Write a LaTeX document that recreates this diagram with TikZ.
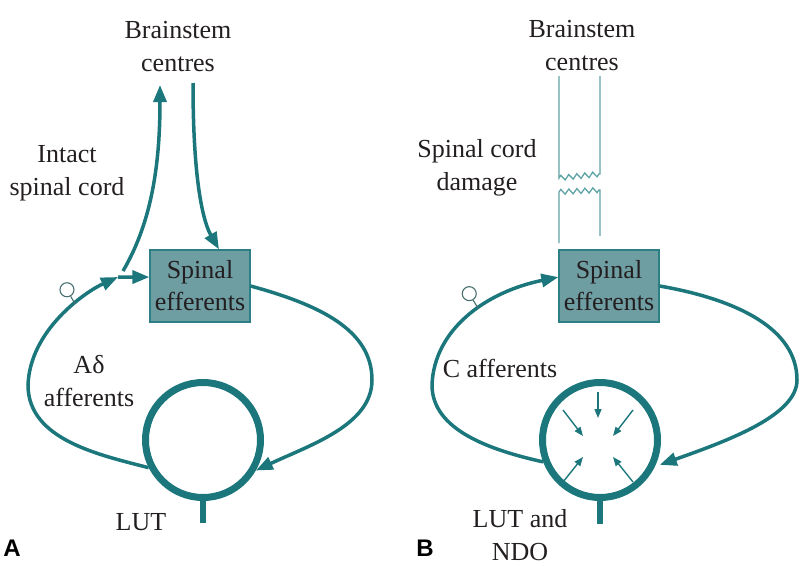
\documentclass[tikz,border=0pt]{standalone}
\usepackage{fontspec}
\setmainfont{Liberation Serif}
\newfontfamily\panelfont{Liberation Sans}
\usetikzlibrary{arrows.meta, calc, decorations.pathmorphing}
\definecolor{tealmain}{HTML}{1B777B}
\definecolor{boxfill}{HTML}{6E9DA2}
\definecolor{boxline}{HTML}{2C7F84}
\definecolor{cordcol}{HTML}{5FA3A5}
\definecolor{reccol}{HTML}{486E6E}
\definecolor{txtcol}{HTML}{231F20}

\begin{document}
\begin{tikzpicture}
                [x=1pt, y=-1pt,
                tsty/.style={align=center, text=txtcol, inner sep=0pt, font=\fontsize{26}{33}\selectfont},
                bsty/.style={draw=boxline, fill=boxfill, line width=1.2pt, minimum width=100pt, minimum height=72pt, inner sep=0pt, align=center, text=txtcol, font=\fontsize{26}{32}\selectfont},
                lsty/.style={circle, draw=tealmain, line width=7pt, minimum size=115pt, inner sep=0pt},
                rsty/.style={circle, draw=reccol, line width=1.1pt, minimum size=14pt, inner sep=0pt},
                asty/.style={-{Triangle[length=17pt, width=13pt]}, draw=tealmain, line width=3.5pt},
                lnsty/.style={draw=tealmain, line width=3.5pt},
                ssty/.style={draw=tealmain, line width=6pt},
                iasty/.style={-{Triangle[length=9pt, width=7pt]}, draw=tealmain, line width=1.4pt},
                csty/.style={draw=cordcol, line width=1.3pt},
                psty/.style={inner sep=0pt, text=black, font=\panelfont\bfseries\fontsize{24}{24}\selectfont}]
                \useasboundingbox (0,0) rectangle (800,565);
                % panel A nodes
                \node[tsty] (bsA) at (178,47) {Brainstem\\centres};
                \node[tsty] (intA) at (67,173) {Intact\\spinal cord};
                \node[bsty] (effA) at (200,286) {Spinal\\efferents};
                \node[lsty] (lutA) at (203,440) {};
                \node[tsty] (affA) at (89,381) {Aδ\\afferents};
                \node[tsty] (lutlA) at (141,522) {LUT};
                \node[psty] (pA) at (12,548) {A};
                \coordinate (upA) at (123,271);
                \coordinate (topA) at (160,85);
                \coordinate (dnA) at (193,83);
                \coordinate (jA) at (118,277);
                \coordinate (stA) at (203,523);
                % panel A connectors
                \draw[asty] (upA) .. controls (150,225) and (160,170) .. (topA);
                \draw[asty] (dnA) .. controls (193,190) and (205,225) .. ($(effA.north)+(19,0)$);
                \draw[asty] (effA.east) .. controls (320,305) and (372,330) .. (372,380)
                    .. controls (372,425) and (310,445) .. (lutA.-30);
                \draw[asty] (lutA.207) .. controls (100,455) and (28,440) .. (28,385)
                    .. controls (30,330) and (85,292) .. node[coordinate, pos=0.62] (recSA) {} (jA);
                \draw[asty] (jA) -- (effA.170);
                \draw[ssty] (lutA.south) -- (stA);
                \node[rsty] (recA) at ($(recSA)+(-8,-14)$) {};
                \draw[draw=reccol, line width=1.1pt] (recA) -- (recSA);
                % panel B nodes
                \node[tsty] (bsB) at (582,46) {Brainstem\\centres};
                \node[tsty] (dmgB) at (477,168) {Spinal cord\\damage};
                \node[bsty] (effB) at (609,286) {Spinal\\efferents};
                \node[lsty] (lutB) at (600,440) {};
                \node[tsty] (affB) at (500,368) {C afferents};
                \node[tsty] (lutlB) at (520,535) {LUT and\\NDO};
                \node[psty] (pB) at (425,548) {B};
                \coordinate (cL1) at (559,76);
                \coordinate (cL2) at (559,178);
                \coordinate (cR1) at (600,76);
                \coordinate (cR2) at (600,174);
                \coordinate (cL3) at (559,243);
                \coordinate (cL4) at (559,192);
                \coordinate (cR3) at (600,236);
                \coordinate (cR4) at (600,190);
                \coordinate (stB) at (600,524);
                % damaged cord
                \draw[csty] (cL1) -- (cL2) decorate[decoration={zigzag, segment length=8pt, amplitude=2.5pt}] {-- (cR2)} -- (cR1);
                \draw[csty] (cL3) -- (cL4) decorate[decoration={zigzag, segment length=8pt, amplitude=2.5pt}] {-- (cR4)} -- (cR3);
                % panel B connectors
                \draw[asty] (effB.east) .. controls (740,300) and (797,330) .. (797,380)
                    .. controls (797,415) and (730,440) .. ([xshift=4pt]lutB.-24);
                \draw[asty] (lutB.201) .. controls (490,450) and (432,430) .. (432,385)
                    .. controls (434,330) and (485,292) .. node[coordinate, pos=0.57] (recSB) {} (effB.170);
                \draw[ssty] (lutB.south) -- (stB);
                \node[rsty] (recB) at ($(recSB)+(-9,-15)$) {};
                \draw[draw=reccol, line width=1.1pt] (recB) -- (recSB);
                % pressure inside LUT
                \draw[iasty] ($(lutB)+(-2,-48)$) -- ($(lutB)+(-2,-22)$);
                \draw[iasty] ($(lutB)+(-37,-30)$) -- ($(lutB)+(-17,-4)$);
                \draw[iasty] ($(lutB)+(33,-30)$) -- ($(lutB)+(13,-4)$);
                \draw[iasty] ($(lutB)+(-37,42)$) -- ($(lutB)+(-17,17)$);
                \draw[iasty] ($(lutB)+(33,42)$) -- ($(lutB)+(13,17)$);
            \end{tikzpicture}
\end{document}
